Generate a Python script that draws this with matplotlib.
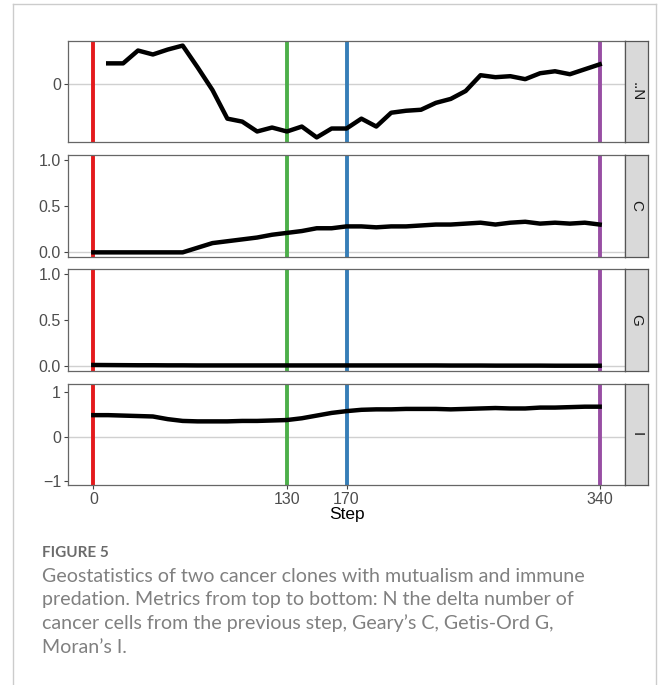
import numpy as np
import matplotlib
matplotlib.use("Agg")
import matplotlib.pyplot as plt
from matplotlib.lines import Line2D

plt.rcParams["font.family"] = ["Liberation Sans", "DejaVu Sans"]

# steps for each metric
steps_n = np.arange(10, 341, 10)
steps = np.arange(0, 341, 10)

# delta number of cancer cells (arbitrary units)
delta_n = [21, 21, 34, 30, 35, 39, 17, -6, -35, -38, -48, -44, -48, -43, -54, -45, -45,
           -35, -43, -29, -27, -26, -19, -15, -7, 9, 7, 8, 5, 11, 13, 10, 15, 20]
geary_c = [0.0, 0.0, 0.0, 0.0, 0.0, 0.0, 0.0, 0.05, 0.10, 0.12, 0.14, 0.16, 0.19, 0.21,
           0.23, 0.26, 0.26, 0.28, 0.28, 0.27, 0.28, 0.28, 0.29, 0.30, 0.30, 0.31, 0.32,
           0.30, 0.32, 0.33, 0.31, 0.32, 0.31, 0.32, 0.30]
getis_g = [0.015, 0.014, 0.013, 0.012, 0.012, 0.011, 0.011, 0.010, 0.010, 0.010, 0.010,
           0.010, 0.010, 0.010, 0.010, 0.010, 0.010, 0.010, 0.010, 0.010, 0.010, 0.010,
           0.010, 0.010, 0.009, 0.009, 0.009, 0.008, 0.008, 0.008, 0.008, 0.007, 0.007,
           0.007, 0.007]
moran_i = [0.49, 0.49, 0.48, 0.47, 0.46, 0.40, 0.36, 0.35, 0.35, 0.35, 0.36, 0.36, 0.37,
           0.38, 0.42, 0.48, 0.54, 0.58, 0.61, 0.62, 0.62, 0.63, 0.63, 0.63, 0.62, 0.63,
           0.64, 0.65, 0.64, 0.64, 0.66, 0.66, 0.67, 0.68, 0.68]

strip_labels = ["..N", "C", "G", "I"]
marker_steps = [0, 130, 170, 340]
marker_colors = ["#E41A1C", "#4DAF4A", "#377EB8", "#984EA3"]

series = [(steps_n, delta_n), (steps, geary_c), (steps, getis_g), (steps, moran_i)]
ylims = [(-58.65, 43.65), (-0.05, 1.05), (-0.05, 1.05), (-1.08, 1.19)]
yticks = [[0], [0.0, 0.5, 1.0], [0.0, 0.5, 1.0], [-1, 0, 1]]
yticklabels = [["0"], ["0.0", "0.5", "1.0"], ["0.0", "0.5", "1.0"], ["\u22121", "0", "1"]]

W, H = 659, 685
fig = plt.figure(figsize=(W / 100, H / 100), dpi=100)

# card border around the figure
for xs, ys in [([13, 13], [4, H]), ([656, 656], [4, H]), ([13, 656], [4, 4])]:
    fig.add_artist(Line2D([x / W for x in xs], [1 - y / H for y in ys],
                          color="#cccccc", lw=1.0))

left, right = 68, 625
strip_w = 23
panel_y = [(41, 142), (155, 257), (269, 371), (384, 485)]

for i, ((x, y), (top, bot)) in enumerate(zip(series, panel_y)):
    ax = fig.add_axes([left / W, 1 - bot / H, (right - left) / W, (bot - top) / H])
    ax.axhline(0, color="#d0d0d0", lw=1.0, zorder=1)
    for s, c in zip(marker_steps, marker_colors):
        ax.axvline(s, color=c, lw=2.8, zorder=2)
    ax.plot(x, y, color="black", lw=3.2, zorder=3, solid_joinstyle="round")
    ax.set_xlim(-17, 357)
    ax.set_ylim(*ylims[i])
    ax.set_yticks(yticks[i])
    ax.set_yticklabels(yticklabels[i])
    ax.tick_params(axis="y", length=3, width=0.8, color="#444444",
                   labelsize=11.5, labelcolor="#4d4d4d", pad=2)
    for sp in ax.spines.values():
        sp.set_color("#666666")
        sp.set_linewidth(0.9)
    if i == len(series) - 1:
        ax.set_xticks(marker_steps)
        ax.tick_params(axis="x", length=3, width=0.8, color="#444444",
                       labelsize=11.5, labelcolor="#4d4d4d", pad=2)
        ax.set_xlabel("Step", fontsize=12.5, color="black", labelpad=0)
    else:
        ax.set_xticks([])

    # facet strip on the right
    sax = fig.add_axes([right / W, 1 - bot / H, strip_w / W, (bot - top) / H])
    sax.set_facecolor("#d9d9d9")
    sax.set_xticks([])
    sax.set_yticks([])
    for sp in sax.spines.values():
        sp.set_color("#555555")
        sp.set_linewidth(0.9)
    sax.text(0.5, 0.5, strip_labels[i], rotation=-90, ha="center", va="center",
             fontsize=11, color="#1a1a1a", transform=sax.transAxes)

# caption
cap_font = ["Lato", "DejaVu Sans"]
fig.text(42 / W, 1 - 553 / H, "FIGURE 5", fontsize=11, color="#6b6b6b",
         family=cap_font, fontweight="bold", va="center")
caption = ["Geostatistics of two cancer clones with mutualism and immune",
           "predation. Metrics from top to bottom: N the delta number of",
           "cancer cells from the previous step, Geary\u2019s C, Getis-Ord G,",
           "Moran\u2019s I."]
for k, line in enumerate(caption):
    fig.text(42 / W, 1 - (576 + 23.7 * k) / H, line, fontsize=14.1, color="#808080",
             family=cap_font, fontweight="normal", va="center")

fig.savefig("out.png", dpi=100)
